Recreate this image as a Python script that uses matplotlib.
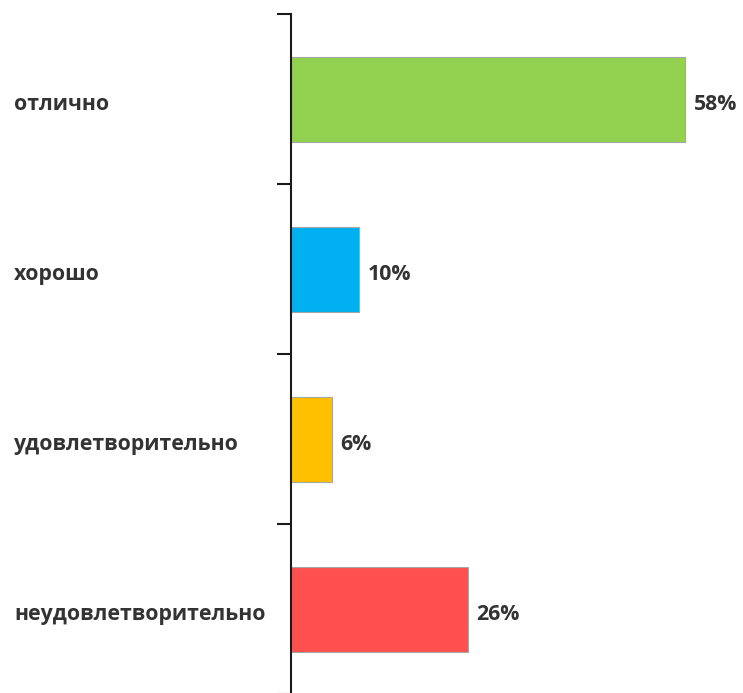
import matplotlib
matplotlib.use("Agg")
import matplotlib.pyplot as plt
from matplotlib.transforms import blended_transform_factory

categories = ["отлично", "хорошо", "удовлетворительно", "неудовлетворительно"]
values = [58, 10, 6, 26]
value_labels = ["58%", "10%", "6%", "26%"]
colors = ["#92d050", "#00b0f0", "#ffc000", "#ff5050"]

W, H = 743, 693
fig = plt.figure(figsize=(W / 100, H / 100), dpi=100)
left, top, bottom = 291, 14, 694
ax = fig.add_axes([left / W, (H - bottom) / H, (W - left) / W, (bottom - top) / H])
ax.set_xlim(0, (W - left) / 6.79)
ax.set_ylim(len(categories), 0)

ypos = [i + 0.5 for i in range(len(categories))]
ax.barh(ypos, values, height=0.5, color=colors, edgecolor="#a6a6a6", linewidth=0.8)

for s in ["top", "right", "bottom"]:
    ax.spines[s].set_visible(False)
ax.spines["left"].set_linewidth(1.5)
ax.spines["left"].set_color("#1a1a1a")
ax.set_xticks([])
ax.set_yticks(range(len(categories) + 1))
ax.set_yticklabels([])
ax.tick_params(axis="y", direction="out", length=10, width=1.5, color="#1a1a1a")

font = dict(family=["Open Sans", "DejaVu Sans"], fontweight="bold", color="#333333", fontsize=15.3)
tr = blended_transform_factory(fig.transFigure, ax.transData)
for y, c in zip(ypos, categories):
    ax.text(14 / W, y + 0.03, c, transform=tr, ha="left", va="center", **font)

for y, v, lab in zip(ypos, values, value_labels):
    ax.annotate(lab, xy=(v, y + 0.03), xytext=(9, 0), textcoords="offset pixels",
                ha="left", va="center", **font)

fig.savefig("out.png", dpi=100)
